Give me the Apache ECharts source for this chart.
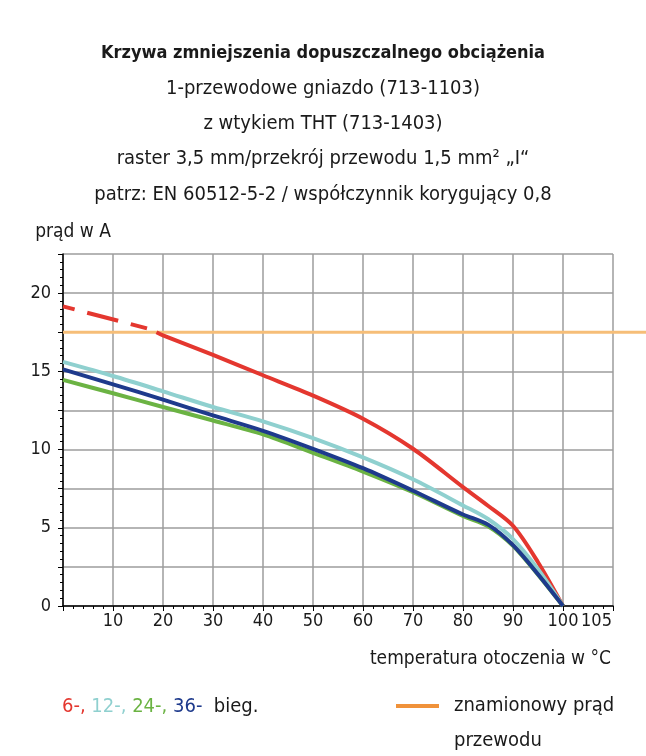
<!DOCTYPE html>
<html>
<head>
<meta charset="utf-8">
<script src="https://cdn.jsdelivr.net/npm/echarts@6/dist/echarts.min.js"></script>
<style>
html,body{margin:0;padding:0;background:#fff;}
#c{width:646px;height:756px;}
</style>
</head>
<body>
<div id="c"></div>
<script>
// ---- data ----
const titleLines = [
  'Krzywa zmniejszenia dopuszczalnego obciążenia',
  '1-przewodowe gniazdo (713-1103)',
  'z wtykiem THT (713-1403)',
  'raster 3,5 mm/przekrój przewodu 1,5 mm² „I“',
  'patrz: EN 60512-5-2 / współczynnik korygujący 0,8'
];
const yAxisName = 'prąd w A';
const xAxisName = 'temperatura otoczenia w °C';
const ratedName = 'znamionowy prąd przewodu';
const ratedLegendLines = ['znamionowy prąd', 'przewodu'];
const ratedCurrent = 17.5;
const ratedX = [0, 116.6];

const xTickLabels = [10, 20, 30, 40, 50, 60, 70, 80, 90, 100, 105];
const yTickLabels = [0, 5, 10, 15, 20];

// 6-pole: dashed part (above rated current) and solid part
const red6DashX = [0, 16.8];
const red6DashY = [19.15, 17.75];
const red6X = [18.7, 20, 30, 40, 50, 60, 70, 80, 85, 90, 95, 100];
const red6Y = [17.5, 17.3, 16.05, 14.75, 13.45, 11.97, 10.05, 7.6, 6.41, 5.13, 2.8, 0];

const tempX = [0, 10, 20, 30, 40, 50, 60, 70, 80, 85, 90, 95, 100];
const cyan12Y = [15.6, 14.7, 13.72, 12.72, 11.8, 10.73, 9.5, 8.1, 6.43, 5.56, 4.28, 2.35, 0];
const green24Y = [14.45, 13.6, 12.72, 11.86, 10.97, 9.79, 8.59, 7.27, 5.75, 5.1, 3.85, 2.0, 0];
const blue36Y = [15.13, 14.17, 13.19, 12.18, 11.2, 10.05, 8.81, 7.37, 5.85, 5.2, 3.89, 2.03, 0];

const legendParts = ['6-,', '12-,', '24-,', '36-', 'bieg.'];

// ---- styling ----
const FONT = "'DejaVu Sans Condensed', 'Roboto', sans-serif";
const C_RED = '#E4372F', C_CYAN = '#8FD0CF', C_GREEN = '#6BB343', C_BLUE = '#1E3A8C';
const C_ORANGE = '#F6BE78', C_ORANGE_LEG = '#F0923A';
const C_GRID = '#9d9d9d', C_TXT = '#1a1a1a';

const zip = (xs, ys) => xs.map((x, i) => [x, ys[i]]);

const chart = echarts.init(document.getElementById('c'), null, {renderer: 'canvas'});

const lineSeries = (name, xs, ys, color, extra) => Object.assign({
  name, type: 'line', data: zip(xs, ys), xAxisIndex: 0, yAxisIndex: 0,
  symbol: 'none', smooth: 0.3,
  lineStyle: {color, width: 4}, itemStyle: {color}, silent: true, animation: false
}, extra || {});

const option = {
  animation: false,
  textStyle: {fontFamily: FONT, color: C_TXT},
  title: {
    text: titleLines.map((t, i) => i === 0 ? '{b|' + t + '}' : '{n|' + t + '}').join('\n'),
    left: 'center', top: 31, padding: 5,
    textStyle: {
      fontFamily: FONT, color: C_TXT, fontWeight: 'normal',
      rich: {
        b: {fontFamily: FONT, fontSize: 18, fontWeight: 'bold', lineHeight: 35.2, color: C_TXT},
        n: {fontFamily: FONT, fontSize: 20, fontWeight: 'normal', lineHeight: 35.2, color: C_TXT}
      }
    }
  },
  grid: [
    {left: 63, right: 33, top: 254, bottom: 150, containLabel: false},
    {left: 63, right: 0, top: 254, bottom: 150, containLabel: false}
  ],
  xAxis: [{
    type: 'value', min: 0, max: 110, interval: 10, position: 'bottom', gridIndex: 0,
    axisLine: {show: true, onZero: false, lineStyle: {color: '#000', width: 1.5}},
    axisTick: {show: true, length: 5, lineStyle: {color: '#000', width: 1}},
    minorTick: {show: true, splitNumber: 5, length: 3, lineStyle: {color: '#000', width: 1}},
    splitLine: {show: true, lineStyle: {color: C_GRID, width: 1.5}},
    axisLabel: {show: false}
  }, {
    type: 'value', min: 0, max: 110, interval: 5, position: 'bottom', gridIndex: 0,
    axisLine: {show: false}, axisTick: {show: false}, splitLine: {show: false},
    axisLabel: {
      show: true, margin: 6, fontSize: 18, fontFamily: FONT, color: C_TXT,
      formatter: v => xTickLabels.indexOf(v) < 0 ? '' : (v === 105 ? '{s|105}' : String(v)),
      rich: {s: {fontSize: 18, fontFamily: FONT, color: C_TXT, padding: [0, 0, 0, 17]}}
    },
    name: xAxisName, nameLocation: 'end', nameGap: -2,
    nameTextStyle: {fontFamily: FONT, fontSize: 19, color: C_TXT, align: 'right', verticalAlign: 'top', padding: [44, 0, 0, 0]}
  }, {
    // full-width scale for the rated-current line, which runs to the page edge
    type: 'value', min: 0, max: ratedX[1], gridIndex: 1, show: false
  }],
  yAxis: [{
    type: 'value', min: 0, max: 22.5, interval: 2.5, gridIndex: 0,
    axisLine: {show: true, onZero: false, lineStyle: {color: '#000', width: 1.5}},
    axisTick: {show: true, length: 5, lineStyle: {color: '#000', width: 1}},
    minorTick: {show: true, splitNumber: 5, length: 3, lineStyle: {color: '#000', width: 1}},
    splitLine: {show: true, lineStyle: {color: C_GRID, width: 1.5}},
    axisLabel: {
      show: true, margin: 12, fontSize: 18, fontFamily: FONT, color: C_TXT,
      formatter: v => yTickLabels.indexOf(v) >= 0 ? String(v) : ''
    },
    name: yAxisName, nameLocation: 'end', nameGap: 12,
    nameTextStyle: {fontFamily: FONT, fontSize: 19, color: C_TXT, align: 'center', padding: [0, 0, 0, 20]}
  }, {
    type: 'value', min: 0, max: 22.5, gridIndex: 1, show: false
  }],
  legend: {
    show: true, left: 391, top: 648.5, orient: 'vertical',
    icon: 'rect', itemWidth: 43, itemHeight: 4,
    data: [{name: ratedName, itemStyle: {color: C_ORANGE_LEG}}],
    formatter: () => '\n' + ratedLegendLines.join('\n'),
    textStyle: {fontFamily: FONT, fontSize: 20, color: C_TXT, lineHeight: 35, padding: [0, 0, 0, 10]},
    selectedMode: false
  },
  graphic: [{
    type: 'text', left: 62, top: 697, silent: true,
    style: {
      text: '{r|' + legendParts[0] + '} {c|' + legendParts[1] + '} {g|' + legendParts[2] + '} {b|' + legendParts[3] + '}  {k|' + legendParts[4] + '}',
      font: '20px ' + FONT, fill: C_TXT,
      rich: {
        r: {fill: C_RED, fontSize: 20, fontFamily: FONT},
        c: {fill: C_CYAN, fontSize: 20, fontFamily: FONT},
        g: {fill: C_GREEN, fontSize: 20, fontFamily: FONT},
        b: {fill: C_BLUE, fontSize: 20, fontFamily: FONT},
        k: {fill: C_TXT, fontSize: 20, fontFamily: FONT}
      }
    }
  }],
  series: [
    {
      name: ratedName, type: 'line', data: zip(ratedX, [ratedCurrent, ratedCurrent]),
      xAxisIndex: 2, yAxisIndex: 1,
      symbol: 'none', lineStyle: {color: C_ORANGE, width: 3}, itemStyle: {color: C_ORANGE_LEG}, z: 1
    },
    lineSeries('6-bieg. (przerywana)', red6DashX, red6DashY, C_RED, {smooth: false, lineStyle: {color: C_RED, width: 4, type: [32, 13], dashOffset: 20}}),
    lineSeries('6-bieg.', red6X, red6Y, C_RED),
    lineSeries('12-bieg.', tempX, cyan12Y, C_CYAN),
    lineSeries('24-bieg.', tempX, green24Y, C_GREEN),
    lineSeries('36-bieg.', tempX, blue36Y, C_BLUE)
  ]
};
chart.setOption(option);
</script>
</body>
</html>
